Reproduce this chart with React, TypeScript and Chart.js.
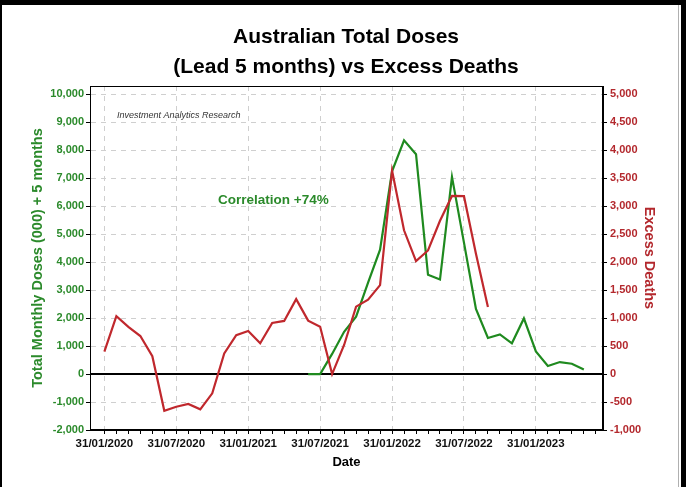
import React, { useEffect, useRef } from "react";
import { Chart, registerables } from "chart.js";

Chart.register(...registerables);

// x positions are month indexes: 0 = Jan 2020
const xTickLabels = [
  "31/01/2020",
  "31/07/2020",
  "31/01/2021",
  "31/07/2021",
  "31/01/2022",
  "31/07/2022",
  "31/01/2023",
];
const monthsPerLabel = 6;
const monthCount = 42;

// Excess deaths, monthly from Jan 2020 (right axis)
const excessDeaths = [
  400, 1035, 845, 680, 320, -655, -585, -535, -630, -345, 370, 695, 770, 550,
  915, 950, 1340, 955, 845, 0, 520, 1205, 1330, 1590, 3640, 2570, 2020, 2210,
  2740, 3185, 3180, 2150, 1200,
];

// Total monthly doses (000), lead 5 months, monthly from Jun 2021 (left axis)
const dosesStartIndex = 17;
const dosesLead5 = [
  0, 0, 720, 1510, 2050, 3270, 4450, 7250, 8360, 7860, 3550, 3380, 7050, 4700,
  2330, 1290, 1420, 1100, 1990, 810, 290, 430, 370, 160,
];

const leftTicks = [-2000, -1000, 0, 1000, 2000, 3000, 4000, 5000, 6000, 7000, 8000, 9000, 10000];
const rightTicks = [-1000, -500, 0, 500, 1000, 1500, 2000, 2500, 3000, 3500, 4000, 4500, 5000];

const FONT = "'Liberation Sans', Arial, sans-serif";
const GREEN = "#1f8a1f";
const GREEN_TEXT = "#2b8a2b";
const RED = "#c0282d";
const RED_TEXT = "#b3282d";
const GRID = "#cfcfcf";

const decorPlugin = {
  id: "decor",
  beforeDatasetsDraw(chart: any) {
    const { ctx, chartArea, scales } = chart;
    const y0 = scales.y.getPixelForValue(0);
    ctx.save();
    ctx.strokeStyle = "#000";
    ctx.lineWidth = 2;
    ctx.beginPath();
    ctx.moveTo(chartArea.left, y0);
    ctx.lineTo(chartArea.right, y0);
    ctx.stroke();
    ctx.restore();
  },
  afterDatasetsDraw(chart: any) {
    const { ctx, chartArea } = chart;
    ctx.save();
    ctx.strokeStyle = "#000";
    ctx.lineWidth = 1;
    ctx.strokeRect(
      chartArea.left + 0.5,
      chartArea.top + 0.5,
      chartArea.right - chartArea.left - 1,
      chartArea.bottom - chartArea.top - 1
    );
    ctx.textBaseline = "middle";
    ctx.textAlign = "left";
    ctx.fillStyle = "#333";
    ctx.font = `italic 9px ${FONT}`;
    ctx.fillText("Investment Analytics Research", chartArea.left + 27, chartArea.top + 29);
    ctx.fillStyle = GREEN_TEXT;
    ctx.font = `bold 13.5px ${FONT}`;
    ctx.fillText("Correlation +74%", chartArea.left + 128, chartArea.top + 114);
    ctx.restore();
  },
};

export default function App() {
  const canvasRef = useRef<HTMLCanvasElement | null>(null);

  useEffect(() => {
    if (!canvasRef.current) return;
    const chart = new Chart(canvasRef.current, {
      type: "line",
      data: {
        datasets: [
          {
            label: "Excess Deaths",
            data: excessDeaths.map((v, i) => ({ x: i, y: v })),
            borderColor: RED,
            borderWidth: 2.2,
            pointRadius: 0,
            tension: 0,
            yAxisID: "y1",
          },
          {
            label: "Total Monthly Doses (000) + 5 months",
            data: dosesLead5.map((v, i) => ({ x: i + dosesStartIndex, y: v })),
            borderColor: GREEN,
            borderWidth: 2.2,
            pointRadius: 0,
            tension: 0,
            yAxisID: "y",
          },
        ],
      },
      options: {
        animation: false,
        responsive: false,
        devicePixelRatio: 1,
        layout: { padding: { left: 24, right: 18, top: 0, bottom: 10 } },
        plugins: {
          legend: { display: false },
          tooltip: { enabled: false },
          title: {
            display: true,
            text: ["Australian Total Doses", "(Lead 5 months) vs Excess Deaths"],
            color: "#000",
            font: { family: FONT, size: 21, weight: "bold", lineHeight: 30 / 21 },
            padding: { top: 22, bottom: 4 },
          },
        },
        scales: {
          x: {
            type: "linear",
            min: -1.2,
            max: 41.6,
            afterBuildTicks: (s: any) => {
              s.ticks = Array.from({ length: monthCount }, (_, i) => ({ value: i }));
            },
            afterFit: (s: any) => {
              s.height = 47;
            },
            ticks: {
              autoSkip: false,
              maxRotation: 0,
              padding: 3,
              color: "#111",
              font: { family: FONT, size: 11.5, weight: "bold" },
              callback: (v: any) =>
                v % monthsPerLabel === 0 ? xTickLabels[v / monthsPerLabel] ?? "" : "",
            },
            grid: {
              color: (c: any) =>
                c.tick && c.tick.value % monthsPerLabel === 0 ? GRID : "rgba(0,0,0,0)",
              tickColor: "#000",
              tickLength: 4,
              lineWidth: 1,
            },
            border: { display: true, color: "#000", dash: [5, 5] },
            title: {
              display: true,
              text: "Date",
              color: "#000",
              font: { family: FONT, size: 13, weight: "bold" },
              padding: { top: 0, bottom: 7 },
            },
          },
          y: {
            type: "linear",
            position: "left",
            min: -2000,
            max: 10300,
            afterBuildTicks: (s: any) => {
              s.ticks = leftTicks.map((v) => ({ value: v }));
            },
            afterFit: (s: any) => {
              s.width = 66;
            },
            ticks: {
              padding: 2,
              color: GREEN_TEXT,
              font: { family: FONT, size: 11, weight: "bold" },
              callback: (v: any) => Number(v).toLocaleString("en-US"),
            },
            grid: { color: GRID, tickColor: "#000", tickLength: 4, lineWidth: 1 },
            border: { display: true, color: "#000", dash: [5, 5] },
            title: {
              display: true,
              text: "Total Monthly Doses (000) + 5 months",
              color: GREEN_TEXT,
              font: { family: FONT, size: 14.5, weight: "bold" },
              padding: { top: 5, bottom: 0 },
            },
          },
          y1: {
            type: "linear",
            position: "right",
            min: -1000,
            max: 5150,
            afterBuildTicks: (s: any) => {
              s.ticks = rightTicks.map((v) => ({ value: v }));
            },
            afterFit: (s: any) => {
              s.width = 65;
            },
            ticks: {
              padding: 3,
              color: RED_TEXT,
              font: { family: FONT, size: 11, weight: "bold" },
              callback: (v: any) => Number(v).toLocaleString("en-US"),
            },
            grid: { drawOnChartArea: false, tickColor: "#000", tickLength: 4 },
            border: { display: true, color: "#000" },
            title: {
              display: true,
              text: "Excess Deaths",
              color: RED_TEXT,
              font: { family: FONT, size: 14.5, weight: "bold" },
              padding: { top: 10, bottom: 0 },
            },
          },
        },
      },
      plugins: [decorPlugin],
    } as any);
    return () => chart.destroy();
  }, []);

  return (
    <div
      style={{
        position: "fixed",
        left: 0,
        top: 0,
        width: 686,
        height: 487,
        background: "#fff",
        overflow: "hidden",
      }}
    >
      <canvas
        ref={canvasRef}
        width={686}
        height={487}
        style={{ position: "absolute", left: 0, top: 0, width: 686, height: 487 }}
      />
      <div style={{ position: "absolute", left: 0, top: 0, width: 686, height: 5, background: "#000" }} />
      <div style={{ position: "absolute", left: 0, top: 0, width: 2, height: 487, background: "#000" }} />
      <div style={{ position: "absolute", left: 681, top: 0, width: 5, height: 487, background: "#000" }} />
      <div style={{ position: "absolute", left: 678, top: 5, width: 1, height: 482, background: "#b0b0b0" }} />
    </div>
  );
}
